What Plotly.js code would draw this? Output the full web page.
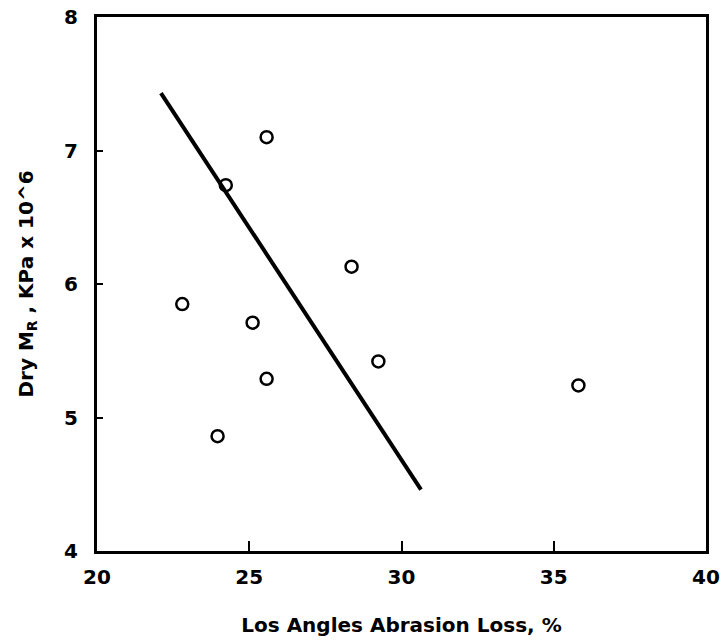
<!DOCTYPE html>
<html>
<head>
<meta charset="utf-8">
<script src="https://cdn.plot.ly/plotly-3.0.1.min.js"></script>
<style>html,body{margin:0;padding:0;background:#fff;}#chart{width:726px;height:643px;}</style>
</head>
<body>
<div id="chart"></div>
<script>
const abrasionLoss = [25.57, 24.23, 22.80, 25.11, 25.57, 23.96, 28.36, 29.24, 35.81];
const dryMR = [7.10, 6.74, 5.85, 5.71, 5.29, 4.86, 6.13, 5.42, 5.24];
const fitX = [22.10, 30.64];
const fitY = [7.43, 4.46];
const xTicks = [20, 25, 30, 35, 40];
const yTicks = [4, 5, 6, 7, 8];

const tickFont = {family: 'DejaVu Sans, sans-serif', color: '#000', size: 20, weight: 'bold'};
const titleFont = {family: 'DejaVu Sans, sans-serif', color: '#000', size: 20, weight: 'bold'};

const traces = [
  {x: fitX, y: fitY, mode: 'lines', line: {color: '#000', width: 4}, showlegend: false, hoverinfo: 'skip'},
  {x: abrasionLoss, y: dryMR, mode: 'markers', showlegend: false,
   marker: {symbol: 'circle-open', size: 12, color: '#000', line: {width: 2.5, color: '#000'}}}
];

const layout = {
  width: 726, height: 643,
  margin: {l: 97, r: 20, t: 17, b: 92},
  paper_bgcolor: '#fff', plot_bgcolor: '#fff',
  showlegend: false,
  xaxis: {
    range: [20, 40], tickvals: xTicks, ticktext: xTicks.map(String),
    showgrid: false, zeroline: false,
    showline: true, linecolor: '#000', linewidth: 3, mirror: true,
    ticks: 'inside', ticklen: 10, tickwidth: 2, tickcolor: '#000',
    tickfont: tickFont, ticklabelstandoff: 6,
    title: {text: 'Los Angles Abrasion Loss, %', font: titleFont, standoff: 30}
  },
  yaxis: {
    range: [4, 8], tickvals: yTicks, ticktext: yTicks.map(String),
    showgrid: false, zeroline: false,
    showline: true, linecolor: '#000', linewidth: 3, mirror: true,
    ticks: 'inside', ticklen: 6, tickwidth: 2, tickcolor: '#000',
    tickfont: tickFont, ticklabelstandoff: 12,
    title: {text: 'Dry M<sub>R</sub> , KPa x 10^6', font: titleFont, standoff: 26}
  }
};

Plotly.newPlot('chart', traces, layout, {staticPlot: true, displayModeBar: false});
</script>
</body>
</html>
